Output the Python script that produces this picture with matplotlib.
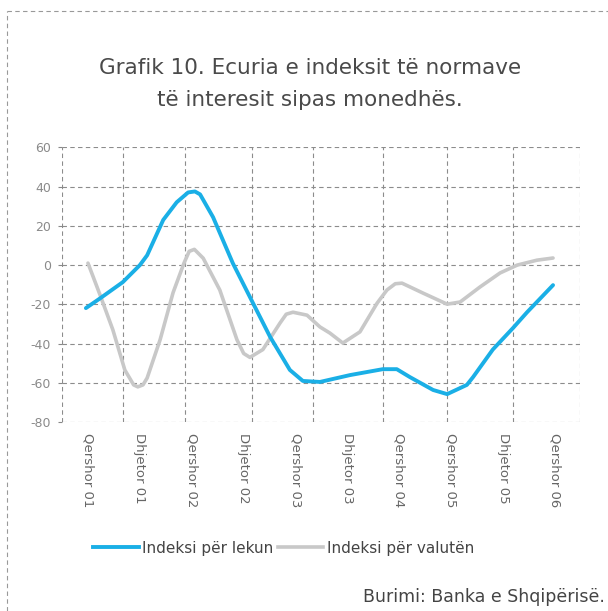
import matplotlib
matplotlib.use("Agg")
import matplotlib.pyplot as plt
from matplotlib.lines import Line2D

# tick labels on the category axis (evenly spaced, one per position 0..9)
x_labels = ["Qershor 01", "Dhjetor 01", "Qershor 02", "Dhjetor 02", "Qershor 03",
            "Dhjetor 03", "Qershor 04", "Qershor 05", "Dhjetor 05", "Qershor 06"]

# Indeksi per lekun (x in label positions)
x_lek = [-0.04, 0.23, 0.67, 1.0, 1.14, 1.45, 1.71, 1.93, 2.06, 2.16, 2.41, 2.79, 3.18,
         3.51, 3.89, 4.14, 4.47, 5.05, 5.68, 5.95, 6.2, 6.65, 6.92, 7.3, 7.42,
         7.8, 8.19, 8.46, 8.96]
y_lek = [-21.9, -17, -8.7, 0, 5, 23, 32, 37, 37.5, 36, 24.4, 1, -19.4,
         -36.6, -53.4, -59, -59.5, -56, -53, -53, -57, -63.6, -65.7, -61, -57,
         -43, -32, -24, -10.2]

# Indeksi per valuten
x_val = [0.0, 0.23, 0.48, 0.71, 0.88, 0.96, 1.06, 1.14, 1.39, 1.64, 1.85, 1.95, 2.05,
         2.22, 2.54, 2.87, 3.0, 3.12, 3.37, 3.70, 3.82, 3.95, 4.22, 4.47, 4.66,
         4.91, 5.24, 5.57, 5.76, 5.92, 6.05, 6.45, 6.92, 7.17, 7.55, 7.94, 8.27,
         8.65, 8.96]
y_val = [1, -15, -33, -53.4, -61, -62, -61, -57.5, -38, -14, 1, 7, 8,
         3.5, -12.7, -38, -45, -47, -43, -29.5, -25, -24, -25.5, -31.5, -34.6,
         -39.7, -34, -19.4, -12.7, -9.5, -9.2, -14.2, -19.9, -18.8, -11.2, -4, 0,
         2.5, 3.6]

y_ticks = [60, 40, 20, 0, -20, -40, -60, -80]
# vertical grid lines sit between the labels, not on them
x_grid = [-0.5, 0.67, 1.87, 3.16, 4.34, 5.68, 6.92, 8.19, 9.48]

plt.rcParams['font.family'] = ["DejaVu Sans"]

fig = plt.figure(figsize=(6.08, 6.11), dpi=100)
ax = fig.add_axes([0.102, 0.309, 0.852, 0.450])

ax.plot(x_val, y_val, color="#c8c8c8", lw=2.6, solid_capstyle="round",
        solid_joinstyle="round", zorder=3)
ax.plot(x_lek, y_lek, color="#1aafe6", lw=2.8, solid_capstyle="round",
        solid_joinstyle="round", zorder=4)

ax.set_xlim(-0.5, 9.48)
ax.set_ylim(-80, 60)
ax.set_yticks(y_ticks)
ax.set_yticklabels([str(v) for v in y_ticks], color="#8a8a8a", fontsize=9)
ax.set_xticks(range(len(x_labels)))
ax.set_xticklabels(x_labels, rotation=-90, color="#666666", fontsize=9.5)
ax.tick_params(axis="x", length=0, pad=8)
ax.tick_params(axis="y", length=3, color="#888888", pad=5)

ax.grid(False)
for yv in y_ticks:
    ax.axhline(yv, color="#8c8c8c", lw=0.8, ls=(0, (4, 3)), zorder=1)
for xv in x_grid:
    ax.axvline(xv, color="#8c8c8c", lw=0.8, ls=(0, (4, 3)), zorder=1)
for s in ax.spines.values():
    s.set_visible(False)

fig.text(0.51, 0.888, "Grafik 10. Ecuria e indeksit të normave",
         ha="center", va="center", fontsize=15.5, color="#4a4a4a")
fig.text(0.51, 0.836, "të interesit sipas monedhës.",
         ha="center", va="center", fontsize=15.5, color="#4a4a4a")

handles = [Line2D([], [], color="#1aafe6", lw=2.8),
           Line2D([], [], color="#c8c8c8", lw=2.6)]
fig.legend(handles, ["Indeksi për lekun", "Indeksi për valutën"],
           loc="center", bbox_to_anchor=(0.466, 0.103), ncol=2, frameon=False,
           fontsize=11, handlelength=3.0, handletextpad=0.2, columnspacing=0.3,
           labelcolor="#444444")

fig.text(0.995, 0.023, "Burimi: Banka e Shqipërisë.", ha="right", va="center",
         fontsize=12.5, color="#444444")

# dashed frame round the whole chart (only top and left visible)
fig.add_artist(Line2D([0.012, 1.0], [0.982, 0.982], transform=fig.transFigure,
                      color="#999999", lw=0.8, ls=(0, (4, 3))))
fig.add_artist(Line2D([0.012, 0.012], [0.0, 0.982], transform=fig.transFigure,
                      color="#999999", lw=0.8, ls=(0, (4, 3))))

fig.savefig("out.png", dpi=100)
